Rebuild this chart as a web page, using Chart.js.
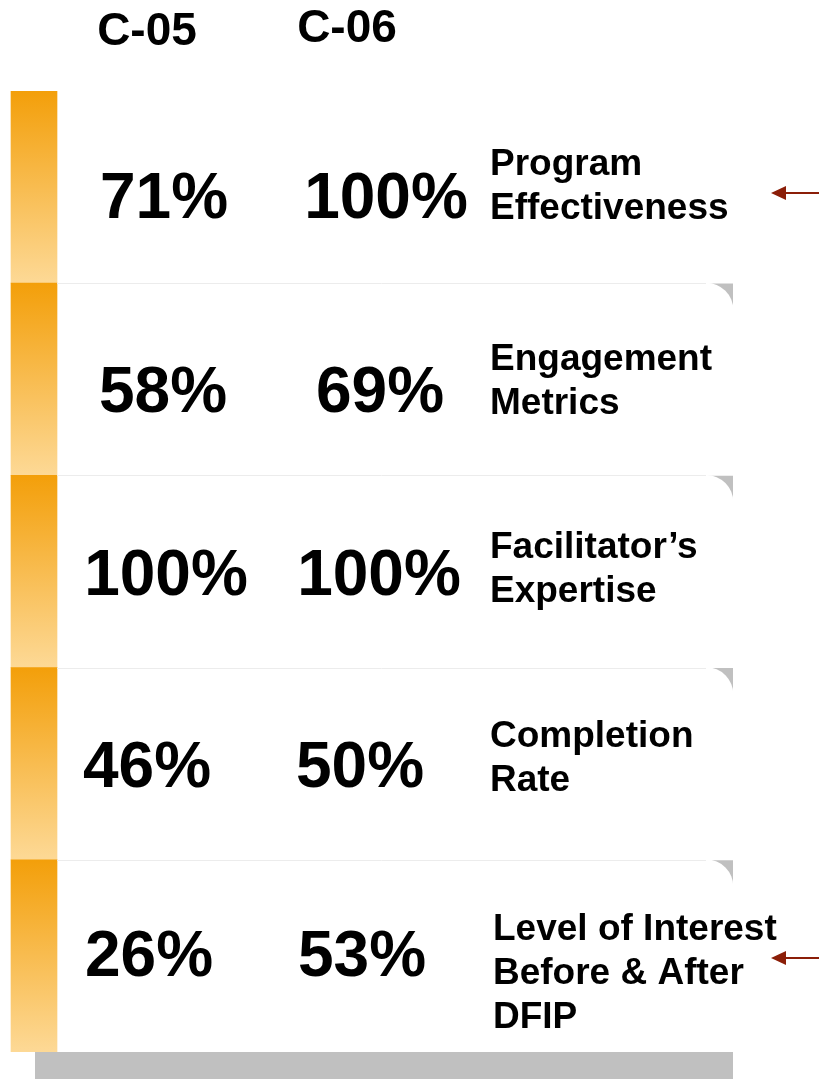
<!DOCTYPE html>
<html>
<head>
<meta charset="utf-8">
<script src="https://cdn.jsdelivr.net/npm/chart.js@4/dist/chart.umd.min.js"></script>
<style>
html,body{margin:0;padding:0;background:#fff;overflow:hidden}
canvas{display:block}
</style>
</head>
<body>
<canvas id="c" width="819" height="1079"></canvas>
<script>
// ---- data ----
const categories = [
  ['Program', 'Effectiveness'],
  ['Engagement', 'Metrics'],
  ['Facilitator\u2019s', 'Expertise'],
  ['Completion', 'Rate'],
  ['Level of Interest', 'Before & After', 'DFIP']
];
const seriesNames = ['C-05', 'C-06'];
const c05 = [71, 58, 100, 46, 26];
const c06 = [100, 69, 100, 50, 53];
const flagged = [true, false, false, false, true];

// ---- layout (page pixel units on the x layout axis) ----
const L = {
  strip: [11, 57],
  panel: [57, 733],
  radius: 27,
  headerX: [147, 347],
  headerBase: [45, 42],
  colX: [158, 373],
  pctDx: [[6, 5, 8, -11, -9], [13, 7, 6, -13, -11]],
  pctDy: [8, 10, 0, 0, -3],
  labelX: [490, 490, 490, 490, 493],
  labelDy: [-3, 0, -5, -8, 15],
  lineH: 44,
  arrowDy: [6, 0, 0, 0, 2],
  arrowX: [771, 819]
};
const FONT = '"Liberation Sans", Arial, Helvetica, sans-serif';

const shadowPlugin = {
  id: 'panelShadow',
  beforeDatasetsDraw(chart) {
    const meta = chart.getDatasetMeta(0);
    const ctx = chart.ctx;
    ctx.save();
    ctx.fillStyle = '#c0c0c0';
    meta.data.forEach(bar => {
      const p = bar.getProps(['x', 'y', 'base', 'height'], true);
      const left = Math.min(p.x, p.base), right = Math.max(p.x, p.base);
      ctx.fillRect(left - 22, p.y - p.height / 2 + 27, right - (left - 22), p.height);
    });
    ctx.restore();
  }
};

const textPlugin = {
  id: 'tableText',
  afterDatasetsDraw(chart) {
    const ctx = chart.ctx;
    const xs = chart.scales.x, ys = chart.scales.y;
    ctx.save();
    const meta = chart.getDatasetMeta(0);
    ctx.strokeStyle = '#ececec';
    ctx.lineWidth = 1;
    meta.data.forEach((bar, i) => {
      if (i === 0) return;
      const p = bar.getProps(['x', 'y', 'base', 'height'], true);
      const top = Math.round(p.y - p.height / 2) + 0.5;
      ctx.beginPath();
      ctx.moveTo(p.base, top);
      ctx.lineTo(p.x - L.radius, top);
      ctx.stroke();
    });

    ctx.fillStyle = '#000';
    ctx.textBaseline = 'alphabetic';
    ctx.textAlign = 'center';
    ctx.font = 'bold 46px ' + FONT;
    seriesNames.forEach((n, i) => ctx.fillText(n, xs.getPixelForValue(L.headerX[i]), L.headerBase[i]));

    ctx.font = 'bold 64px ' + FONT;
    [c05, c06].forEach((series, s) => {
      series.forEach((v, i) => {
        const cy = ys.getPixelForValue(i);
        ctx.fillText(v + '%', xs.getPixelForValue(L.colX[s] + L.pctDx[s][i]), cy + L.pctDy[i] + 23);
      });
    });

    ctx.textAlign = 'left';
    ctx.font = 'bold 37px ' + FONT;
    categories.forEach((lines, i) => {
      const cy = ys.getPixelForValue(i);
      const first = cy - L.lineH * (lines.length - 1) / 2 + 13 + L.labelDy[i];
      lines.forEach((t, k) => ctx.fillText(t, xs.getPixelForValue(L.labelX[i]), first + k * L.lineH));
    });

    ctx.strokeStyle = '#8b1e08';
    ctx.fillStyle = '#8b1e08';
    ctx.lineWidth = 2;
    flagged.forEach((f, i) => {
      if (!f) return;
      const ay = ys.getPixelForValue(i) + L.arrowDy[i];
      const x0 = xs.getPixelForValue(L.arrowX[0]), x1 = xs.getPixelForValue(L.arrowX[1]);
      ctx.beginPath();
      ctx.moveTo(x0 + 12, ay);
      ctx.lineTo(x1, ay);
      ctx.stroke();
      ctx.beginPath();
      ctx.moveTo(x0, ay);
      ctx.lineTo(x0 + 15, ay - 7);
      ctx.lineTo(x0 + 15, ay + 7);
      ctx.closePath();
      ctx.fill();
    });
    ctx.restore();
  }
};

function stripGradient(c) {
  const chart = c.chart;
  const ys = chart.scales && chart.scales.y;
  if (!ys || c.dataIndex === undefined) return '#f6b547';
  const cy = ys.getPixelForValue(c.dataIndex);
  const half = ys.height / categories.length / 2;
  if (!isFinite(cy) || !isFinite(half) || half <= 0) return '#f6b547';
  const g = chart.ctx.createLinearGradient(0, cy - half, 0, cy + half);
  g.addColorStop(0, 'rgb(243,159,10)');
  g.addColorStop(1, 'rgb(253,217,150)');
  return g;
}

new Chart(document.getElementById('c'), {
  type: 'bar',
  data: {
    labels: categories,
    datasets: [
      {
        label: 'panel',
        data: categories.map(() => L.panel.slice()),
        backgroundColor: '#ffffff',
        borderRadius: { topLeft: 0, topRight: L.radius, bottomLeft: 0, bottomRight: 0 },
        borderSkipped: false,
        grouped: false,
        barPercentage: 1,
        categoryPercentage: 1,
        order: 2
      },
      {
        label: 'strip',
        data: categories.map(() => L.strip.slice()),
        backgroundColor: stripGradient,
        borderSkipped: false,
        grouped: false,
        barPercentage: 1,
        categoryPercentage: 1,
        order: 1
      }
    ]
  },
  options: {
    indexAxis: 'y',
    responsive: false,
    animation: false,
    devicePixelRatio: 1,
    layout: { padding: { top: 91, bottom: 27, left: 0, right: 0 } },
    scales: {
      x: { type: 'linear', min: 0, max: 819, display: false },
      y: { type: 'category', display: false, offset: true }
    },
    plugins: { legend: { display: false }, tooltip: { enabled: false } }
  },
  plugins: [shadowPlugin, textPlugin]
});
</script>
</body>
</html>
